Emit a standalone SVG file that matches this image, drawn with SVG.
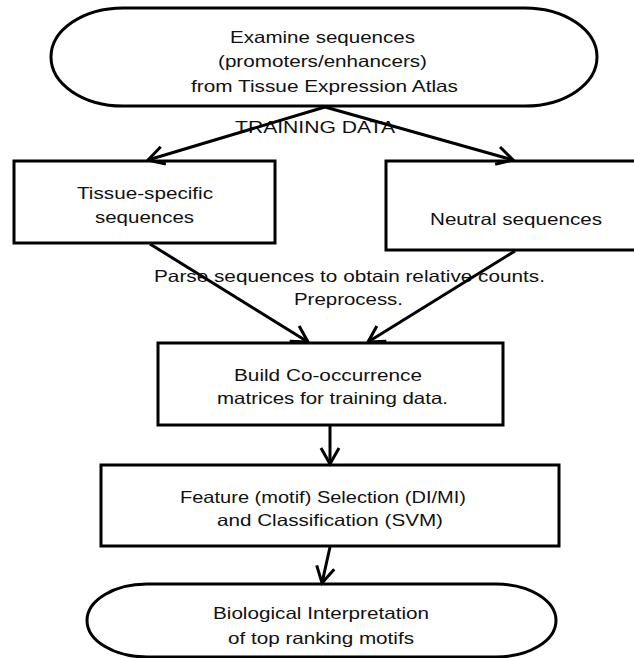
<svg xmlns="http://www.w3.org/2000/svg" width="634" height="658" viewBox="0 0 634 658">
<style>
.n{fill:#fff;stroke:#000;stroke-width:3}
.t{font-family:"Liberation Sans",Arial,sans-serif;font-size:16.5px;fill:#111}
.c{fill:none;stroke:#000;stroke-width:3;marker-end:url(#ah)}
</style>
<defs>
<marker id="ah" markerUnits="userSpaceOnUse" markerWidth="24" markerHeight="24" viewBox="-20 -12 24 24" refX="0" refY="0" orient="auto">
<path d="M-16,-9 L0,0 L-16,9" fill="none" stroke="#000" stroke-width="3"/>
</marker>
</defs>
<rect width="634" height="658" fill="#fff"/>
<g id="n-examine">
<rect class="n" x="51" y="8" width="546" height="98" rx="72" ry="49"/>
<text class="t" x="230" y="43" textLength="185" lengthAdjust="spacingAndGlyphs">Examine sequences</text>
<text class="t" x="218" y="67" textLength="209" lengthAdjust="spacingAndGlyphs">(promoters/enhancers)</text>
<text class="t" x="191" y="92" textLength="267" lengthAdjust="spacingAndGlyphs">from Tissue Expression Atlas</text>
</g>
<g id="n-tissue">
<rect class="n" x="14" y="161" width="261" height="82"/>
<text class="t" x="77" y="199" textLength="136" lengthAdjust="spacingAndGlyphs">Tissue-specific</text>
<text class="t" x="95" y="223" textLength="99" lengthAdjust="spacingAndGlyphs">sequences</text>
</g>
<g id="n-neutral">
<rect class="n" x="386" y="161" width="260" height="89"/>
<text class="t" x="430" y="225" textLength="172" lengthAdjust="spacingAndGlyphs">Neutral sequences</text>
</g>
<g id="n-build">
<rect class="n" x="158" y="343" width="345" height="82"/>
<text class="t" x="234" y="381" textLength="188" lengthAdjust="spacingAndGlyphs">Build Co-occurrence</text>
<text class="t" x="217" y="404" textLength="231" lengthAdjust="spacingAndGlyphs">matrices for training data.</text>
</g>
<g id="n-feature">
<rect class="n" x="101" y="465" width="458" height="81"/>
<text class="t" x="180" y="503" textLength="286" lengthAdjust="spacingAndGlyphs">Feature (motif) Selection (DI/MI)</text>
<text class="t" x="217" y="526" textLength="226" lengthAdjust="spacingAndGlyphs">and Classification (SVM)</text>
</g>
<g id="n-bio">
<rect class="n" x="87" y="584" width="469" height="73" rx="60" ry="36.5"/>
<text class="t" x="213" y="619" textLength="216" lengthAdjust="spacingAndGlyphs">Biological Interpretation</text>
<text class="t" x="228" y="644" textLength="186" lengthAdjust="spacingAndGlyphs">of top ranking motifs</text>
</g>
<g id="connectors">
<text class="t" x="235" y="133" textLength="160" lengthAdjust="spacingAndGlyphs">TRAINING DATA</text>
<text class="t" x="154" y="282" textLength="391" lengthAdjust="spacingAndGlyphs">Parse sequences to obtain relative counts.</text>
<text class="t" x="294" y="305" textLength="109" lengthAdjust="spacingAndGlyphs">Preprocess.</text>
<path class="c" d="M325,107 L148,160"/>
<path class="c" d="M325,107 L513,160"/>
<path class="c" d="M150,244 L308,342"/>
<path class="c" d="M515,251 L368,342"/>
<path class="c" d="M330,426 L330,464"/>
<path class="c" d="M330,547 L322,583"/>
</g>
</svg>
